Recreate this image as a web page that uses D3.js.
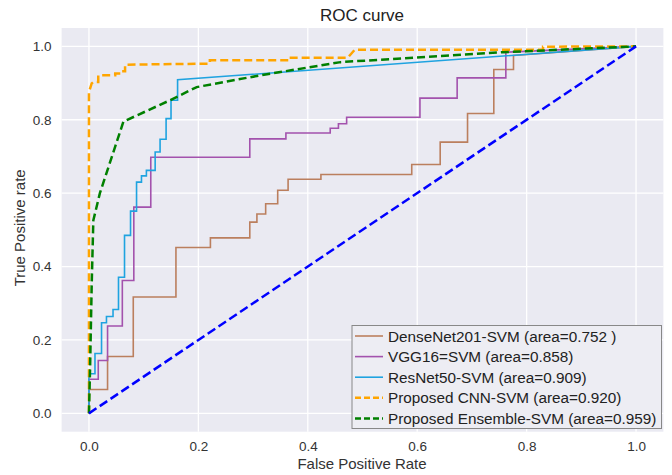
<!DOCTYPE html>
<html><head><meta charset="utf-8">
<script src="https://cdn.jsdelivr.net/npm/d3@7"></script>
<style>body{margin:0;background:#fff}text{font-family:"Liberation Sans",Arial,sans-serif}</style>
</head><body><svg id="c" width="672" height="475"></svg>
<script>
const titleText = "ROC curve";
const xLabel = "False Positive Rate";
const yLabel = "True Positive rate";
const tickValues = [0, 0.2, 0.4, 0.6, 0.8, 1.0];
const tickLabels = ["0.0", "0.2", "0.4", "0.6", "0.8", "1.0"];

const seriesNames = ["DenseNet201-SVM (area=0.752 )", "VGG16=SVM (area=0.858)", "ResNet50-SVM (area=0.909)", "Proposed CNN-SVM (area=0.920)", "Proposed Ensemble-SVM (area=0.959)"];

const densenetFpr = [0, 0, 0.034, 0.034, 0.081, 0.081, 0.159, 0.159, 0.222, 0.222, 0.294, 0.294, 0.307, 0.307, 0.323, 0.323, 0.345, 0.345, 0.364, 0.364, 0.424, 0.424, 0.590, 0.590, 0.642, 0.642, 0.692, 0.692, 0.740, 0.740, 0.776, 0.776, 1.0];
const densenetTpr = [0, 0.065, 0.065, 0.155, 0.155, 0.317, 0.317, 0.452, 0.452, 0.478, 0.478, 0.521, 0.521, 0.543, 0.543, 0.571, 0.571, 0.608, 0.608, 0.638, 0.638, 0.651, 0.651, 0.678, 0.678, 0.739, 0.739, 0.817, 0.817, 0.937, 0.937, 0.975, 1.0];

const vggFpr = [0, 0, 0.017, 0.017, 0.034, 0.034, 0.061, 0.061, 0.082, 0.082, 0.113, 0.113, 0.294, 0.294, 0.360, 0.360, 0.441, 0.441, 0.456, 0.456, 0.471, 0.471, 0.605, 0.605, 0.673, 0.673, 0.762, 0.762, 1.0];
const vggTpr = [0, 0.093, 0.093, 0.144, 0.144, 0.238, 0.238, 0.362, 0.362, 0.562, 0.562, 0.698, 0.698, 0.748, 0.748, 0.764, 0.764, 0.777, 0.777, 0.789, 0.789, 0.807, 0.807, 0.859, 0.859, 0.914, 0.914, 0.984, 1.0];

const resnetFpr = [0, 0, 0.011, 0.011, 0.023, 0.023, 0.032, 0.032, 0.044, 0.044, 0.054, 0.054, 0.065, 0.065, 0.076, 0.076, 0.087, 0.087, 0.096, 0.096, 0.105, 0.105, 0.121, 0.121, 0.130, 0.130, 0.141, 0.141, 0.150, 0.150, 0.162, 0.162, 1.0];
const resnetTpr = [0, 0.108, 0.108, 0.163, 0.163, 0.247, 0.247, 0.264, 0.264, 0.283, 0.283, 0.371, 0.371, 0.485, 0.485, 0.551, 0.551, 0.630, 0.630, 0.647, 0.647, 0.662, 0.662, 0.712, 0.712, 0.747, 0.747, 0.803, 0.803, 0.853, 0.853, 0.909, 1.0];

const cnnFpr = [0, 0, 0.005, 0.008, 0.017, 0.017, 0.026, 0.048, 0.048, 0.055, 0.055, 0.066, 0.066, 0.221, 0.221, 0.362, 0.362, 0.473, 0.486, 0.83, 0.83, 1.0];
const cnnTpr = [0, 0.875, 0.899, 0.903, 0.903, 0.921, 0.921, 0.921, 0.926, 0.926, 0.932, 0.932, 0.950, 0.953, 0.962, 0.962, 0.969, 0.969, 0.991, 0.991, 0.999, 1.0];

const ensembleFpr = [0, 0.002, 0.005, 0.008, 0.02, 0.063, 0.148, 0.197, 0.313, 0.46, 0.757, 1.0];
const ensembleTpr = [0, 0.12, 0.35, 0.526, 0.60, 0.795, 0.853, 0.889, 0.921, 0.957, 0.984, 1.0];

const chanceFpr = [0, 1];
const chanceTpr = [0, 1];

const svg = d3.select("#c");
const x = d3.scaleLinear().domain([-0.05, 1.05]).range([61.6, 663.4]);
const y = d3.scaleLinear().domain([-0.05, 1.05]).range([431.7, 28]);

svg.append("rect").attr("x", x(-0.05)).attr("y", y(1.05)).attr("width", x(1.05) - x(-0.05)).attr("height", y(-0.05) - y(1.05)).attr("fill", "#EAEAF2");

const g = svg.append("g");
g.selectAll(".vg").data(tickValues).enter().append("line")
  .attr("x1", d => x(d)).attr("x2", d => x(d)).attr("y1", y(1.05)).attr("y2", y(-0.05))
  .attr("stroke", "#fff").attr("stroke-width", 1.3);
g.selectAll(".hg").data(tickValues).enter().append("line")
  .attr("y1", d => y(d)).attr("y2", d => y(d)).attr("x1", x(-0.05)).attr("x2", x(1.05))
  .attr("stroke", "#fff").attr("stroke-width", 1.3);

const xAxis = d3.axisBottom(x).tickValues(tickValues).tickFormat((d, i) => tickLabels[i]).tickSize(0).tickPadding(10);
const xa = svg.append("g").attr("transform", `translate(0,${y(-0.05)})`).call(xAxis);
xa.select(".domain").remove();
xa.selectAll("text").attr("font-size", 13.5).attr("fill", "#333").style("font-family", "Liberation Sans, Arial, sans-serif");

const yAxis = d3.axisLeft(y).tickValues(tickValues).tickFormat((d, i) => tickLabels[i]).tickSize(0).tickPadding(10);
const ya = svg.append("g").attr("transform", `translate(${x(-0.05)},0)`).call(yAxis);
ya.select(".domain").remove();
ya.selectAll("text").attr("font-size", 13.5).attr("fill", "#333").style("font-family", "Liberation Sans, Arial, sans-serif");

svg.append("text").attr("x", 362).attr("y", 20.5).attr("text-anchor", "middle").attr("font-size", 17).attr("fill", "#222").text(titleText);
svg.append("text").attr("x", 362).attr("y", 469).attr("text-anchor", "middle").attr("font-size", 15).attr("fill", "#333").text(xLabel);
svg.append("text").attr("transform", `translate(25,${y(0.5) - 2}) rotate(-90)`).attr("text-anchor", "middle").attr("font-size", 15).attr("fill", "#333").text(yLabel);

const series = [
  {fpr: densenetFpr, tpr: densenetTpr, color: "#bb7f5e", w: 1.6, dash: null},
  {fpr: vggFpr, tpr: vggTpr, color: "#a352ad", w: 1.6, dash: null},
  {fpr: resnetFpr, tpr: resnetTpr, color: "#1fa3e0", w: 1.6, dash: null},
  {fpr: cnnFpr, tpr: cnnTpr, color: "#FFA500", w: 2.5, dash: "8,4"},
  {fpr: ensembleFpr, tpr: ensembleTpr, color: "#008000", w: 2.5, dash: "8,4"}
];
const line = d3.line().x(d => x(d[0])).y(d => y(d[1]));
series.forEach(s => {
  const pts = s.fpr.map((f, i) => [f, s.tpr[i]]);
  const p = svg.append("path").attr("d", line(pts)).attr("fill", "none").attr("stroke", s.color).attr("stroke-width", s.w).attr("stroke-linejoin", "miter");
  if (s.dash) p.attr("stroke-dasharray", s.dash);
});
svg.append("path").attr("d", line(chanceFpr.map((f, i) => [f, chanceTpr[i]]))).attr("fill", "none").attr("stroke", "#0000FF").attr("stroke-width", 2.5).attr("stroke-dasharray", "9,4");

// legend
const lg = svg.append("g");
lg.append("rect").attr("x", 352).attr("y", 325.5).attr("width", 309.5).attr("height", 103).attr("fill", "#EDEDF3").attr("stroke", "#888").attr("stroke-width", 1);
series.forEach((s, i) => {
  const yy = 336 + i * 20.6;
  const l = lg.append("line").attr("x1", 355).attr("x2", 383).attr("y1", yy).attr("y2", yy).attr("stroke", s.color).attr("stroke-width", s.w);
  if (s.dash) l.attr("stroke-dasharray", "6,3");
  lg.append("text").attr("x", 388).attr("y", yy + 5.5).attr("font-size", 15.3).attr("fill", "#222").text(seriesNames[i]);
});
</script></body></html>
